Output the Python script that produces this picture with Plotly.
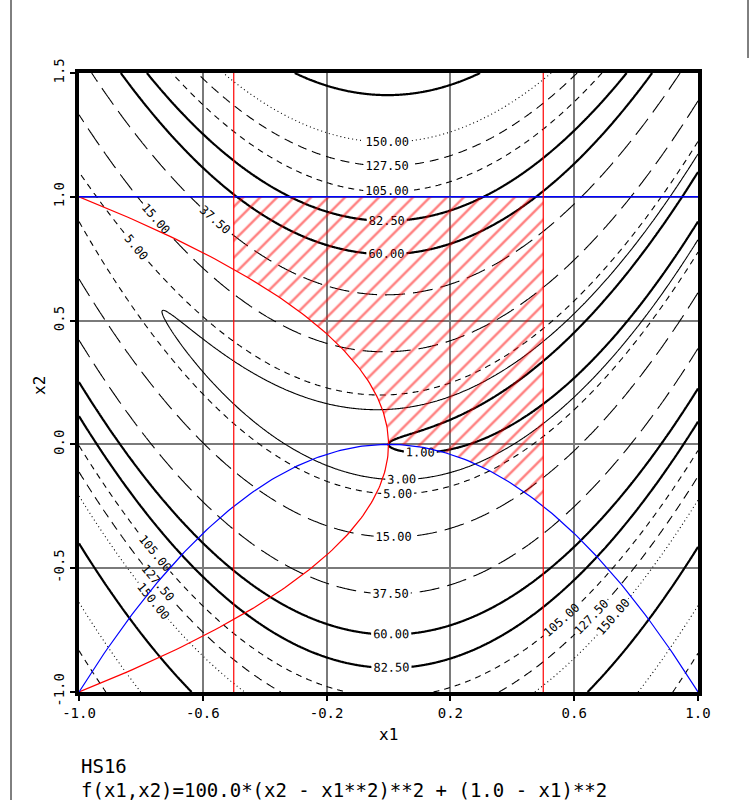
import numpy as np
import plotly.graph_objects as go

# ---- data ----
title_name = "HS16"
formula_text = "f(x1,x2)=100.0*(x2 - x1**2)**2 + (1.0 - x1)**2"
x1_range = [-1.0, 1.0]
x2_range = [-1.0, 1.5]
x_ticks = [-1.0, -0.6, -0.2, 0.2, 0.6, 1.0]
y_ticks = [-1.0, -0.5, 0.0, 0.5, 1.0, 1.5]
levels = [1.0, 3.0, 5.0, 15.0, 37.5, 60.0, 82.5, 105.0, 127.5, 150.0, 200.0, 272.5, 340.0]
labelled = [True, True, True, True, True, True, True, True, True, True, False, False, False]
x1_bounds = [-0.5, 0.5]
x2_upper = 1.0

# ---- styles ----
THICK = dict(width=2.2, dash="solid")
THIN = dict(width=1.1, dash="solid")
DASH = dict(width=1.1, dash="6px,5px")
DASH2 = dict(width=1.1, dash="9px,6px")
LONG = dict(width=1.1, dash="20px,8px")
DOT = dict(width=1.1, dash="1px,3px")
style_for = {1.0: THICK, 3.0: THIN, 5.0: DASH, 15.0: LONG, 37.5: LONG, 60.0: THICK,
             82.5: THICK, 105.0: DASH, 127.5: DASH2, 150.0: DOT, 200.0: THICK,
             272.5: DOT, 340.0: DASH}


def f(x1, x2):
    return 100.0 * (x2 - x1 ** 2) ** 2 + (1.0 - x1) ** 2


gx = np.linspace(x1_range[0], x1_range[1], 501)
gy = np.linspace(x2_range[0], x2_range[1], 626)
X, Y = np.meshgrid(gx, gy)
Z = f(X, Y)

fig = go.Figure()

# feasible region hatch
lo, hi = x1_bounds
t_blue = np.linspace(hi, 0.0, 60)
t_red = np.linspace(0.0, np.sqrt(-lo), 60)
px = [lo, hi, hi] + list(t_blue) + list(-t_red ** 2) + [lo]
py = [x2_upper, x2_upper, -hi ** 2] + list(-t_blue ** 2) + list(t_red) + [x2_upper]
fig.add_trace(go.Scatter(x=px, y=py, mode="lines", fill="toself",
                         fillcolor="rgba(0,0,0,0)", line=dict(width=0),
                         fillpattern=dict(shape="/", fgcolor="#ff0000", bgcolor="rgba(0,0,0,0)",
                                          size=12, solidity=0.2),
                         hoverinfo="skip", showlegend=False))

for lev, lab in zip(levels, labelled):
    st = style_for[lev]
    fig.add_trace(go.Contour(
        x=gx, y=gy, z=Z, showscale=False, autocontour=False,
        contours=dict(start=lev, end=lev, size=1, coloring="none",
                      showlabels=lab, labelformat=".2f",
                      labelfont=dict(family="DejaVu Sans Mono", size=12, color="black")),
        line=dict(color="black", width=st["width"], dash=st["dash"], smoothing=0.8),
        hoverinfo="skip", showlegend=False))

# constraints
c2 = np.linspace(-1.0, 1.0, 200)
fig.add_trace(go.Scatter(x=-c2 ** 2, y=c2, mode="lines", line=dict(color="red", width=1.2),
                         showlegend=False, hoverinfo="skip"))
c1 = np.linspace(-1.0, 1.0, 200)
fig.add_trace(go.Scatter(x=c1, y=-c1 ** 2, mode="lines", line=dict(color="blue", width=1.2),
                         showlegend=False, hoverinfo="skip"))
fig.add_trace(go.Scatter(x=x1_range, y=[x2_upper, x2_upper], mode="lines",
                         line=dict(color="blue", width=1.4), showlegend=False, hoverinfo="skip"))
for b in x1_bounds:
    fig.add_trace(go.Scatter(x=[b, b], y=x2_range, mode="lines",
                             line=dict(color="red", width=1.2), showlegend=False,
                             hoverinfo="skip"))

axis_common = dict(showline=True, mirror=True, linewidth=4, linecolor="black",
                   showgrid=True, gridcolor="#7a7a7a", gridwidth=1.5, zeroline=False,
                   ticks="outside", ticklen=5, tickwidth=1.5, tickcolor="black",
                   tickfont=dict(family="DejaVu Sans Mono", size=14, color="black"))
fig.update_xaxes(range=x1_range, tickvals=x_ticks, ticktext=[f"{v:.1f}" for v in x_ticks],
                 **axis_common)
fig.update_yaxes(range=x2_range, tickvals=y_ticks, ticktext=[f"{v:.1f}" for v in y_ticks],
                 tickangle=-90, **axis_common)

W, H = 756, 800
L, R, T, B = 79, 58, 73, 108
pw, ph = W - L - R, H - T - B


def px2paper_x(p):
    return (p - L) / pw


def px2paper_y(p):
    return (H - B - p) / ph


ann_font = dict(family="DejaVu Sans Mono", size=19, color="black")
ttl_font = dict(family="DejaVu Sans Mono", size=16, color="black")
annotations = [
    dict(text="x1", x=px2paper_x(388), y=px2paper_y(734), xref="paper", yref="paper",
         xanchor="center", yanchor="middle", showarrow=False, font=ttl_font),
    dict(text="x2", x=px2paper_x(40), y=px2paper_y(385), xref="paper", yref="paper",
         xanchor="center", yanchor="middle", showarrow=False, textangle=-90, font=ttl_font),
    dict(text=title_name, x=px2paper_x(79), y=px2paper_y(766), xref="paper", yref="paper",
         xanchor="left", yanchor="middle", showarrow=False, font=ann_font),
    dict(text=formula_text, x=px2paper_x(79), y=px2paper_y(790), xref="paper", yref="paper",
         xanchor="left", yanchor="middle", showarrow=False, font=ann_font),
]

shapes = [
    dict(type="line", xref="paper", yref="paper", x0=px2paper_x(11), x1=px2paper_x(11),
         y0=px2paper_y(0), y1=px2paper_y(800), line=dict(color="black", width=1)),
    dict(type="line", xref="paper", yref="paper", x0=px2paper_x(748), x1=px2paper_x(748),
         y0=px2paper_y(0), y1=px2paper_y(58), line=dict(color="black", width=1)),
]

fig.update_layout(width=W, height=H, margin=dict(l=L, r=R, t=T, b=B),
                  paper_bgcolor="white", plot_bgcolor="white", showlegend=False,
                  annotations=annotations, shapes=shapes)

fig.write_html("out.html")
